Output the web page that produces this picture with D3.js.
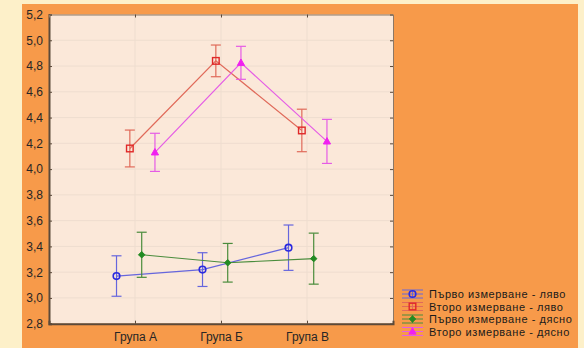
<!DOCTYPE html>
<html>
<head>
<meta charset="utf-8">
<script src="https://cdn.jsdelivr.net/npm/d3@7"></script>
<style>
  html, body { margin: 0; padding: 0; background: #fdf0c9; }
  svg { display: block; }
  text { font-family: "Liberation Sans", Arial, sans-serif; }
</style>
</head>
<body>
<svg id="chart" width="584" height="348"></svg>
<script>
// Groups on the x axis
const categories = ["Група А", "Група Б", "Група В"];

// Series means and half-widths of the error bars
const seriesNames = [
  "Първо измерване - ляво",
  "Второ измерване - ляво",
  "Първо измерване - дясно",
  "Второ измерване - дясно"
];
const firstLeftMean   = [3.17, 3.22, 3.39];
const firstLeftErr    = [0.157, 0.131, 0.176];
const secondLeftMean  = [4.16, 4.84, 4.30];
const secondLeftErr   = [0.143, 0.123, 0.165];
const firstRightMean  = [3.335, 3.273, 3.305];
const firstRightErr   = [0.175, 0.150, 0.198];
const secondRightMean = [4.13, 4.825, 4.215];
const secondRightErr  = [0.148, 0.128, 0.171];

const yTicks = [2.8, 3.0, 3.2, 3.4, 3.6, 3.8, 4.0, 4.2, 4.4, 4.6, 4.8, 5.0, 5.2];

const series = [
  { name: seriesNames[0], mean: firstLeftMean,   err: firstLeftErr,   shift: -0.215, line: "#6666dd", mark: "#2a2ae0", shape: "circle" },
  { name: seriesNames[1], mean: secondLeftMean,  err: secondLeftErr,  shift: -0.06,  line: "#e06a5a", mark: "#e02828", shape: "square" },
  { name: seriesNames[2], mean: firstRightMean,  err: firstRightErr,  shift: 0.078,  line: "#4a8c3c", mark: "#228a22", shape: "diamond" },
  { name: seriesNames[3], mean: secondRightMean, err: secondRightErr, shift: 0.232,  line: "#e55ce5", mark: "#f020f0", shape: "triangle" }
];

const svg = d3.select("#chart");
const H = 348;
const plot = { left: 49, right: 393, top: 14.5, bottom: 323.7 };
const fontSize = 12;

// Orange panel
svg.append("rect").attr("x", 22).attr("y", 4).attr("width", 556).attr("height", H - 4).attr("fill", "#f79a4a");

// Plot background
svg.append("rect").attr("x", plot.left).attr("y", plot.top)
  .attr("width", plot.right - plot.left).attr("height", plot.bottom - plot.top)
  .attr("fill", "#fbe8d9");

const x = d3.scalePoint().domain(categories).range([plot.left, plot.right]).padding(1);
const y = d3.scaleLinear().domain([2.8, 5.2]).range([plot.bottom, plot.top]);
const step = x.step();

// Grid
const grid = svg.append("g");
grid.selectAll(".gy").data(yTicks.slice(1, -1)).join("line")
  .attr("x1", plot.left).attr("x2", plot.right)
  .attr("y1", d => y(d)).attr("y2", d => y(d))
  .attr("stroke", "#eeddcf").attr("stroke-width", 1);
grid.selectAll(".gx").data(categories).join("line")
  .attr("x1", d => x(d)).attr("x2", d => x(d))
  .attr("y1", plot.top).attr("y2", plot.bottom)
  .attr("stroke", "#eeddcf").attr("stroke-width", 1);

// Axes (ticks pointing inward)
const axisColor = "#5c4a3a";
const yLeft = svg.append("g").attr("transform", `translate(${plot.left},0)`)
  .call(d3.axisLeft(y).tickValues(yTicks).tickSize(-3).tickPadding(6)
    .tickFormat(d => d3.format(".1f")(d).replace(".", ",")));
const yRight = svg.append("g").attr("transform", `translate(${plot.right},0)`)
  .call(d3.axisRight(y).tickValues(yTicks).tickSize(-3).tickFormat(""));
const xBottom = svg.append("g").attr("transform", `translate(0,${plot.bottom})`)
  .call(d3.axisBottom(x).tickSize(-3).tickPadding(9));
const xTop = svg.append("g").attr("transform", `translate(0,${plot.top})`)
  .call(d3.axisTop(x).tickSize(-3).tickFormat(""));

[yLeft, yRight, xBottom, xTop].forEach(g => {
  g.select(".domain").attr("stroke", "#8c7866").attr("stroke-width", 1);
  g.selectAll(".tick line").attr("stroke", axisColor);
  g.selectAll("text").attr("fill", "#262626").attr("font-size", fontSize)
    .attr("font-family", "'Liberation Sans', Arial, sans-serif");
});
yLeft.select(".domain").attr("stroke", axisColor).attr("stroke-width", 2);
xBottom.select(".domain").attr("stroke", axisColor).attr("stroke-width", 2);

// Marker drawing
function drawMarker(g, shape, cx, cy, color) {
  if (shape === "circle") {
    g.append("circle").attr("cx", cx).attr("cy", cy).attr("r", 3.3)
      .attr("fill", "none").attr("stroke", color).attr("stroke-width", 1.6);
  } else if (shape === "square") {
    g.append("rect").attr("x", cx - 3.3).attr("y", cy - 3.3).attr("width", 6.6).attr("height", 6.6)
      .attr("fill", "none").attr("stroke", color).attr("stroke-width", 1.4);
  } else if (shape === "diamond") {
    g.append("path").attr("d", `M${cx},${cy - 3.2}L${cx + 3.2},${cy}L${cx},${cy + 3.2}L${cx - 3.2},${cy}Z`)
      .attr("fill", color).attr("stroke", color).attr("stroke-width", 1);
  } else {
    g.append("path").attr("d", `M${cx},${cy - 3.8}L${cx + 3.6},${cy + 2.6}L${cx - 3.6},${cy + 2.6}Z`)
      .attr("fill", color).attr("stroke", color).attr("stroke-width", 1);
  }
}

// Series: connecting lines, error bars, markers
const marks = svg.append("g");
series.forEach(s => {
  const px = (c) => x(c) + s.shift * step;
  const pts = categories.map((c, i) => [px(c), y(s.mean[i])]);
  marks.append("path").attr("d", d3.line()(pts))
    .attr("fill", "none").attr("stroke", s.line).attr("stroke-width", 1.2);
  categories.forEach((c, i) => {
    const cx = px(c);
    const top = y(s.mean[i] + s.err[i]);
    const bot = y(s.mean[i] - s.err[i]);
    marks.append("line").attr("x1", cx).attr("x2", cx).attr("y1", top).attr("y2", bot)
      .attr("stroke", s.line).attr("stroke-width", 1.2);
    [top, bot].forEach(yy => marks.append("line")
      .attr("x1", cx - 5).attr("x2", cx + 5).attr("y1", yy).attr("y2", yy)
      .attr("stroke", s.line).attr("stroke-width", 1.2));
  });
  categories.forEach((c, i) => drawMarker(marks, s.shape, px(c), y(s.mean[i]), s.mark));
});

// Legend
const legendRow = 12.5;
const legend = svg.append("g").attr("transform", "translate(402,294)");
series.forEach((s, i) => {
  const g = legend.append("g").attr("transform", `translate(0,${i * legendRow})`);
  [-4, 0, 4].forEach(dy => g.append("line").attr("x1", 0).attr("x2", 21).attr("y1", dy).attr("y2", dy)
    .attr("stroke", s.line).attr("stroke-width", 1));
  g.append("line").attr("x1", 10.5).attr("x2", 10.5).attr("y1", -4).attr("y2", 4)
    .attr("stroke", s.line).attr("stroke-width", 1);
  drawMarker(g, s.shape, 10.5, 0, s.mark);
  g.append("text").attr("x", 27).attr("y", 4).attr("font-size", 11)
    .attr("letter-spacing", 0.55)
    .attr("fill", "#1a1a1a").text(s.name);
});
</script>
</body>
</html>
